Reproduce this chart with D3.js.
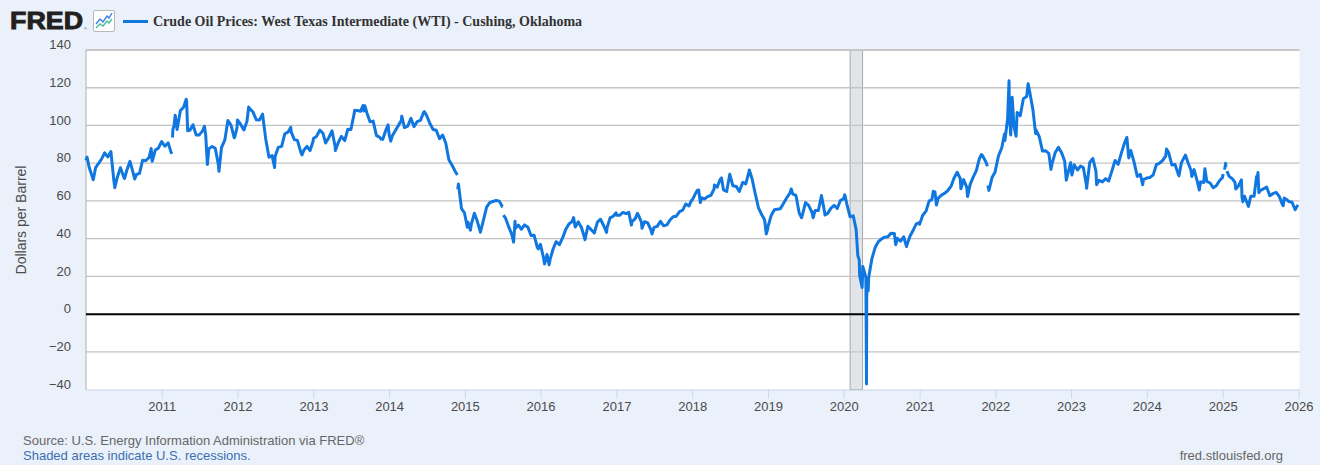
<!DOCTYPE html>
<html>
<head>
<meta charset="utf-8">
<script src="https://cdn.jsdelivr.net/npm/d3@7"></script>
<style>
  html, body { margin: 0; padding: 0; background: #eaf1fa; }
  svg { display: block; font-family: "Liberation Sans", Arial, sans-serif; }
</style>
</head>
<body>
<div id="container"></div>
<script>
/* DATA: WTI spot price, dollars per barrel, sampled on the 1st and 16th of each month */
const wti2010 = [81.5, 78.0, 72.5, 77.5, 79.7, 82.0, 85.5, 83.3, 86.2, 70.0, 72.6, 77.6, 72.9, 76.0, 81.0, 75.0, 74.0, 74.6, 81.6, 81.3, 83.0, 81.0, 87.0, 88.0];
const wti2011 = [91.5, 89.0, 90.8, 85.5, 99.6, 97.9, 107.9, 109.6, 113.0, 97.4, 100.3, 94.9, 95.0, 97.0, 94.9, 87.6, 88.9, 87.9, 79.2, 88.3, 92.2, 102.6, 100.2, 93.5];
const wti2012 = [102.9, 100.7, 97.6, 102.3, 108.8, 107.1, 103.0, 102.9, 106.0, 93.0, 83.2, 84.0, 83.8, 88.4, 88.9, 95.6, 96.5, 96.6, 92.5, 92.1, 86.0, 86.9, 88.9, 86.7];
const wti2013 = [93.1, 94.2, 97.5, 95.9, 90.7, 93.5, 97.1, 88.7, 91.0, 94.2, 92.0, 98.0, 97.9, 106.0, 107.9, 107.5, 107.7, 106.6, 102.0, 102.3, 94.6, 93.8, 92.6, 97.5];
const wti2014 = [95.1, 94.4, 97.5, 100.3, 102.6, 98.9, 99.7, 103.8, 99.4, 102.0, 102.7, 106.9, 105.3, 101.2, 97.9, 97.5, 93.0, 94.9, 90.7, 81.8, 78.8, 75.6, 69.0, 55.9];
const wti2015 = [52.7, 48.7, 47.5, 53.5, 49.6, 43.9, 50.0, 56.7, 59.1, 59.7, 60.2, 59.9, 56.9, 50.9, 46.1, 42.0, 45.4, 47.2, 45.0, 47.3, 46.1, 41.7, 41.8, 35.5];
const wti2016 = [36.8, 29.4, 31.6, 29.0, 34.4, 38.4, 36.8, 40.4, 44.8, 47.7, 49.1, 46.2, 48.9, 45.9, 40.1, 46.6, 44.7, 43.0, 48.8, 50.3, 46.7, 45.6, 51.0, 51.9];
const wti2017 = [52.4, 52.4, 53.9, 53.3, 54.0, 48.9, 50.6, 52.6, 48.8, 49.0, 48.3, 44.7, 46.0, 46.5, 49.2, 46.8, 47.3, 49.9, 51.6, 51.9, 54.3, 55.1, 58.4, 57.3];
const wti2018 = [60.4, 63.7, 65.8, 61.7, 61.0, 62.3, 63.0, 66.2, 67.3, 71.5, 65.8, 65.0, 74.1, 68.0, 67.7, 65.0, 69.8, 69.0, 75.3, 71.9, 63.7, 56.5, 52.9, 49.9];
const wti2019 = [46.3, 52.1, 55.3, 55.6, 55.8, 58.5, 61.6, 64.0, 63.6, 62.9, 53.5, 52.5, 59.1, 57.6, 54.0, 54.9, 54.9, 62.9, 54.0, 53.4, 56.2, 57.7, 56.0, 60.2];
const wti2020 = [61.2, 58.5, 51.6, 52.1, 44.8, 28.7, 20.3, 19.9, 19.8, 29.4, 35.4, 38.4, 39.8, 40.8, 41.0, 42.9, 42.8, 40.2, 38.7, 41.0, 36.8, 41.4, 44.5, 47.8];
const wti2021 = [47.6, 52.4, 54.6, 60.0, 60.6, 64.8, 61.5, 63.1, 64.0, 65.4, 67.7, 72.2, 75.2, 71.8, 71.3, 67.3, 68.5, 72.6, 75.9, 82.4, 83.9, 80.8, 65.6, 72.4];
const wti2022 = [76.1, 83.8, 88.2, 92.0, 103.4, 95.0, 99.3, 106.9, 105.2, 114.2, 115.3, 117.6, 108.4, 97.6, 93.9, 86.5, 86.6, 85.1, 79.5, 85.5, 88.4, 85.6, 81.2, 74.3];
const wti2023 = [76.9, 79.2, 76.4, 78.5, 77.7, 68.4, 80.4, 82.5, 75.7, 70.9, 70.1, 71.8, 70.6, 75.6, 81.4, 79.4, 85.6, 90.8, 88.8, 86.7, 80.4, 73.0, 74.1, 71.4];
const wti2024 = [72.2, 72.4, 73.8, 79.2, 79.9, 81.3, 83.7, 85.4, 79.0, 79.3, 74.2, 80.3, 83.4, 80.8, 76.3, 76.6, 70.1, 70.1, 69.8, 70.4, 69.5, 67.0, 68.0, 70.7];
const wti2025 = [73.6, 78.7, 73.0, 71.8, 69.8, 67.6, 71.2, 62.5, 58.2, 62.5, 62.5, 72.0, 65.5, 66.4, 67.3, 62.8, 64.0, 64.5, 62.3, 58.0, 61.0, 59.7, 59.3, 55.3];

const yearlySeries = [
  [2010, wti2010], [2011, wti2011], [2012, wti2012], [2013, wti2013],
  [2014, wti2014], [2015, wti2015], [2016, wti2016], [2017, wti2017],
  [2018, wti2018], [2019, wti2019], [2020, wti2020], [2021, wti2021],
  [2022, wti2022], [2023, wti2023], [2024, wti2024], [2025, wti2025]
];

// daily highs / lows between the sample dates
const extraPoints = [
  ["2010-01-06", 83.2], ["2010-02-05", 71.2], ["2010-05-20", 67.0], ["2010-07-06", 71.9],
  ["2010-08-24", 71.6], ["2010-11-11", 87.8], ["2010-12-31", 91.4],
  ["2011-02-18", 86.2], ["2011-02-22", 93.6], ["2011-02-24", 98.1], ["2011-03-07", 105.4],
  ["2011-04-29", 113.9], ["2011-05-06", 97.2], ["2011-07-26", 99.6], ["2011-08-08", 81.3],
  ["2011-08-09", 79.3], ["2011-10-04", 75.7], ["2011-12-19", 93.9], ["2011-12-30", 98.8],
  ["2012-02-24", 109.8], ["2012-06-28", 77.7], ["2012-09-14", 99.0], ["2012-11-07", 84.4],
  ["2012-12-31", 91.8],
  ["2013-04-17", 86.7], ["2013-07-19", 108.0], ["2013-08-28", 110.6], ["2013-09-06", 110.5],
  ["2013-11-27", 92.3], ["2013-11-29", 92.7], ["2013-12-27", 100.3],
  ["2014-01-09", 91.7], ["2014-03-03", 104.9], ["2014-06-20", 107.3], ["2014-11-26", 73.7],
  ["2014-11-28", 66.2], ["2014-12-31", 53.5],
  ["2015-01-13", 46.1], ["2015-01-28", 44.5], ["2015-03-17", 43.4], ["2015-07-02", 56.9],
  ["2015-07-06", 52.5], ["2015-08-24", 38.2], ["2015-08-31", 49.2], ["2015-12-21", 34.6],
  ["2015-12-31", 37.0],
  ["2016-01-20", 26.6], ["2016-02-11", 26.2], ["2016-06-08", 51.2], ["2016-08-02", 39.5],
  ["2016-11-14", 43.3], ["2016-12-30", 53.7],
  ["2017-03-14", 47.2], ["2017-04-12", 53.4], ["2017-05-04", 45.5], ["2017-06-21", 42.5],
  ["2017-12-29", 60.4],
  ["2018-01-25", 65.6], ["2018-02-09", 59.2], ["2018-04-18", 68.5], ["2018-05-22", 72.2],
  ["2018-10-03", 76.4], ["2018-12-24", 42.5], ["2018-12-31", 45.2],
  ["2019-04-23", 66.3], ["2019-06-12", 51.1], ["2019-08-07", 51.1], ["2019-10-03", 52.5],
  ["2019-12-31", 61.1],
  ["2020-01-06", 63.3], ["2020-03-09", 31.1], ["2020-03-18", 20.4], ["2020-03-30", 14.1],
  ["2020-04-02", 25.3], ["2020-04-17", 18.3], ["2020-04-20", -36.98], ["2020-04-21", 8.9],
  ["2020-04-22", 13.8], ["2020-04-28", 12.3], ["2020-09-08", 36.8], ["2020-10-30", 35.8],
  ["2020-12-31", 48.5],
  ["2021-03-08", 65.1], ["2021-03-23", 57.8], ["2021-07-19", 66.4], ["2021-08-20", 62.3],
  ["2021-10-26", 84.6], ["2021-11-24", 78.4], ["2021-11-26", 68.2], ["2021-12-31", 75.3],
  ["2022-02-14", 95.5], ["2022-03-08", 123.7], ["2022-03-10", 106.0], ["2022-03-23", 114.9],
  ["2022-04-11", 94.3], ["2022-06-08", 122.1], ["2022-07-14", 95.8], ["2022-09-26", 76.7],
  ["2022-12-09", 71.0], ["2022-12-30", 80.3],
  ["2023-01-05", 73.7], ["2023-03-17", 66.7], ["2023-05-04", 68.6], ["2023-09-27", 93.7],
  ["2023-10-06", 82.8], ["2023-12-12", 68.6], ["2023-12-29", 71.9],
  ["2024-04-05", 87.5], ["2024-06-04", 73.3], ["2024-07-05", 84.3], ["2024-08-05", 72.9],
  ["2024-09-10", 65.8], ["2024-10-07", 77.1], ["2024-12-31", 72.4],
  ["2025-01-08", 73.3], ["2025-01-10", 76.6], ["2025-01-15", 80.0], ["2025-01-17", 78.0],
  ["2025-01-21", 75.8], ["2025-03-05", 66.3], ["2025-04-04", 61.9], ["2025-04-08", 59.6],
  ["2025-05-05", 57.1], ["2025-06-13", 72.9], ["2025-06-20", 75.1], ["2025-06-24", 64.4],
  ["2025-10-20", 57.5], ["2025-10-24", 61.5], ["2025-12-29", 57.9]
];

// holidays with no observation -> the line breaks there
const missingDates = ["2011-02-21", "2013-11-28", "2014-11-27", "2015-07-03", "2021-11-25", "2025-01-09", "2025-01-20"];

const yTicks = [-40, -20, 0, 20, 40, 60, 80, 100, 120, 140];
const xTickYears = [2011, 2012, 2013, 2014, 2015, 2016, 2017, 2018, 2019, 2020, 2021, 2022, 2023, 2024, 2025, 2026];
const recessions = [["2020-02-01", "2020-04-01"]];

const seriesTitle = "Crude Oil Prices: West Texas Intermediate (WTI) - Cushing, Oklahoma";
const yTitle = "Dollars per Barrel";
const sourceNote = "Source: U.S. Energy Information Administration via FRED®";
const shadeNote = "Shaded areas indicate U.S. recessions.";
const siteNote = "fred.stlouisfed.org";

/* CONSTANTS */
const width = 1320, height = 465;
const plot = { left: 86, right: 1299.5, top: 50, bottom: 389.6 };
const lineColor = "#1177e0";
const parse = d3.utcParse("%Y-%m-%d");

/* BUILD SERIES */
let series = [];
yearlySeries.forEach(([yr, vals]) => {
  vals.forEach((v, i) => {
    series.push({ date: new Date(Date.UTC(yr, Math.floor(i / 2), i % 2 ? 16 : 1)), value: v });
  });
});
extraPoints.forEach(([d, v]) => series.push({ date: parse(d), value: v }));
missingDates.forEach(d => series.push({ date: parse(d), value: null }));
series.sort((a, b) => a.date - b.date);

/* SCALES */
const x = d3.scaleUtc()
  .domain([parse("2010-01-01"), parse("2026-01-06")])
  .range([plot.left, plot.right]);

const y = d3.scaleLinear()
  .domain([-40, 140])
  .range([plot.bottom, plot.top]);

/* SVG */
const svg = d3.select("#container")
  .append("svg")
  .attr("width", width)
  .attr("height", height);

// plot background
svg.append("rect")
  .attr("x", plot.left).attr("y", plot.top)
  .attr("width", plot.right - plot.left)
  .attr("height", plot.bottom - plot.top)
  .attr("fill", "#ffffff");

// recession shading
svg.selectAll(".recession")
  .data(recessions)
  .join("rect")
  .attr("class", "recession")
  .attr("x", d => x(parse(d[0])))
  .attr("y", plot.top)
  .attr("width", d => x(parse(d[1])) - x(parse(d[0])))
  .attr("height", plot.bottom - plot.top)
  .attr("fill", "#e1e5ea")
  .attr("stroke", "#a8a8a8")
  .attr("stroke-width", 1);

// gridlines
svg.selectAll(".grid")
  .data(yTicks.filter(t => t !== 0 && t !== -40))
  .join("line")
  .attr("class", "grid")
  .attr("x1", plot.left).attr("x2", plot.right)
  .attr("y1", d => y(d)).attr("y2", d => y(d))
  .attr("stroke", "#c4c4c4")
  .attr("stroke-width", 1.3);

// y axis labels
const yAxis = d3.axisLeft(y).tickValues(yTicks).tickSize(0).tickPadding(0);
svg.append("g")
  .attr("transform", `translate(${plot.left - 15},0)`)
  .call(yAxis)
  .call(g => g.select(".domain").remove())
  .call(g => g.selectAll("text")
    .attr("dy", "-0.1em")
    .attr("fill", "#4a4a4a")
    .style("font-size", "13px")
    .style("font-family", "'Liberation Sans', Arial, sans-serif"));

// x axis
const xAxis = d3.axisBottom(x)
  .tickValues(xTickYears.map(yr => new Date(Date.UTC(yr, 0, 1))))
  .tickFormat(d3.utcFormat("%Y"))
  .tickSize(9)
  .tickPadding(3);
svg.append("g")
  .attr("transform", `translate(0,${plot.bottom})`)
  .call(xAxis)
  .call(g => g.select(".domain")
    .attr("stroke", "#ccd6eb")
    .attr("d", `M${plot.left},0.5H${plot.right}`))
  .call(g => g.selectAll(".tick line").attr("stroke", "#ccd6eb"))
  .call(g => g.selectAll("text")
    .attr("fill", "#4a4a4a")
    .style("font-size", "13px")
    .style("font-family", "'Liberation Sans', Arial, sans-serif"));

// left axis line
svg.append("line")
  .attr("x1", plot.left).attr("x2", plot.left)
  .attr("y1", plot.top).attr("y2", plot.bottom)
  .attr("stroke", "#b0b0b0")
  .attr("stroke-width", 1);

// top line at 140
svg.append("line")
  .attr("x1", plot.left).attr("x2", plot.right)
  .attr("y1", y(140)).attr("y2", y(140))
  .attr("stroke", "#c4c4c4")
  .attr("stroke-width", 1.3);

// zero line
svg.append("line")
  .attr("x1", plot.left).attr("x2", plot.right)
  .attr("y1", y(0)).attr("y2", y(0))
  .attr("stroke", "#000000")
  .attr("stroke-width", 2);

// price line
const lineGen = d3.line()
  .defined(d => d.value !== null)
  .x(d => x(d.date))
  .y(d => y(d.value));

svg.append("path")
  .datum(series)
  .attr("fill", "none")
  .attr("stroke", lineColor)
  .attr("stroke-width", 3)
  .attr("stroke-linejoin", "round")
  .attr("stroke-linecap", "butt")
  .attr("d", lineGen);

// y axis title
svg.append("text")
  .attr("transform", "translate(26,220) rotate(-90)")
  .attr("text-anchor", "middle")
  .attr("fill", "#4a4a4a")
  .style("font-size", "14px")
  .text(yTitle);

/* HEADER */
svg.append("text")
  .attr("x", 10).attr("y", 28.5)
  .attr("textLength", 73)
  .attr("lengthAdjust", "spacingAndGlyphs")
  .attr("fill", "#231f20")
  .attr("stroke", "#231f20")
  .attr("stroke-width", 0.9)
  .style("font-size", "24.5px")
  .style("font-weight", "bold")
  .style("font-family", "'Liberation Sans', Arial, sans-serif")
  .text("FRED");

svg.append("text")
  .attr("x", 84).attr("y", 30)
  .attr("fill", "#555")
  .style("font-size", "4px")
  .text("®");

// small chart icon
const icon = svg.append("g").attr("transform", "translate(93,10)");
icon.append("rect")
  .attr("x", 0.5).attr("y", 0.5)
  .attr("width", 21).attr("height", 21)
  .attr("rx", 1.5)
  .attr("fill", "#ffffff")
  .attr("stroke", "#b8b8b8");
icon.append("path")
  .attr("d", "M3,14 L7,9 L10,12 L14,6 L16,8 L19,3")
  .attr("fill", "none").attr("stroke", "#3a7ee0").attr("stroke-width", 1.4);
icon.append("path")
  .attr("d", "M3,18 L7,14 L10,16 L14,11 L16,13 L19,9")
  .attr("fill", "none").attr("stroke", "#4bbf9a").attr("stroke-width", 1.4);

// legend key
svg.append("line")
  .attr("x1", 123).attr("x2", 148)
  .attr("y1", 21.5).attr("y2", 21.5)
  .attr("stroke", lineColor)
  .attr("stroke-width", 3);

svg.append("text")
  .attr("x", 153).attr("y", 26)
  .attr("fill", "#333333")
  .style("font-size", "14px")
  .style("font-weight", "bold")
  .style("font-family", "'Liberation Serif', 'Times New Roman', serif")
  .text(seriesTitle);

/* FOOTER */
svg.append("text")
  .attr("x", 23).attr("y", 444.5)
  .attr("fill", "#666666")
  .style("font-size", "13px")
  .text(sourceNote);

svg.append("text")
  .attr("x", 23).attr("y", 460)
  .attr("fill", "#3b6fb0")
  .style("font-size", "13px")
  .text(shadeNote);

svg.append("text")
  .attr("x", 1283).attr("y", 460)
  .attr("text-anchor", "end")
  .attr("fill", "#666666")
  .style("font-size", "13px")
  .text(siteNote);
</script>
</body>
</html>
